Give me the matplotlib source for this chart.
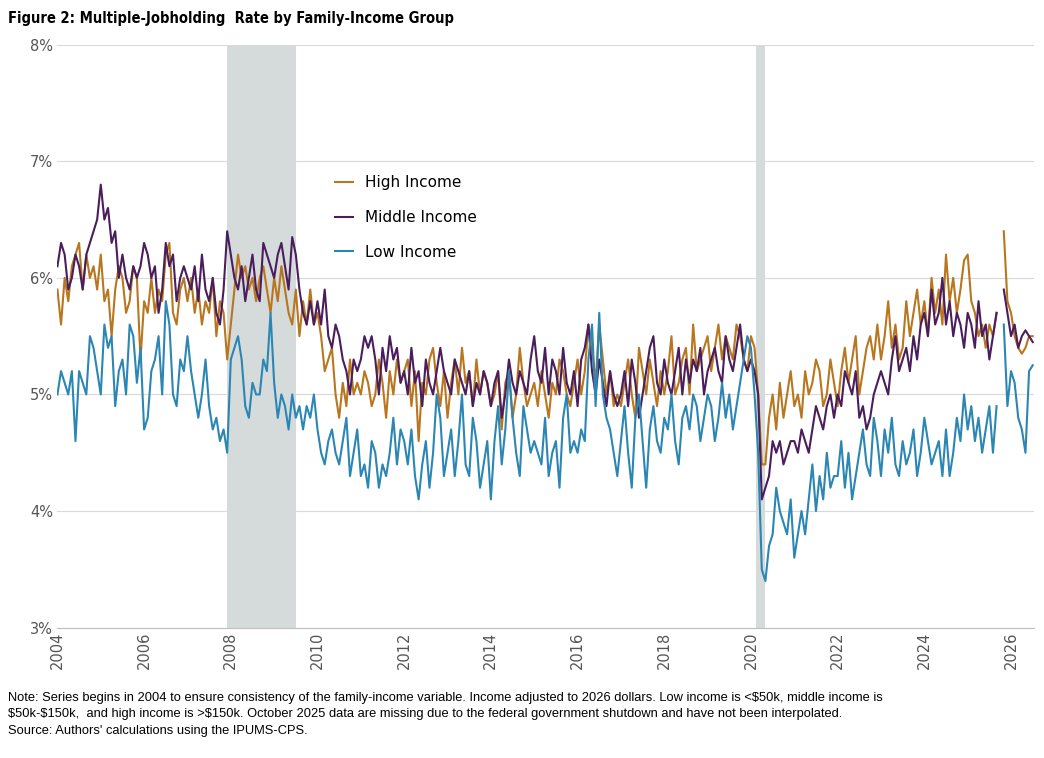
import numpy as np
import matplotlib
matplotlib.use("Agg")
import matplotlib.pyplot as plt

nan = np.nan
low = [
5.0,5.2,5.1,5.0,5.2,4.6,5.2,5.1,5.0,5.5,5.4,5.2,
5.0,5.6,5.4,5.5,4.9,5.2,5.3,5.0,5.6,5.5,5.1,5.4,
4.7,4.8,5.2,5.3,5.5,5.0,5.8,5.6,5.0,4.9,5.3,5.2,
5.5,5.2,5.0,4.8,5.0,5.3,4.9,4.7,4.8,4.6,4.7,4.5,
5.3,5.4,5.5,5.3,4.9,4.8,5.1,5.0,5.0,5.3,5.2,5.7,
5.1,4.8,5.0,4.9,4.7,5.0,4.8,4.9,4.7,4.9,4.8,5.0,
4.7,4.5,4.4,4.6,4.7,4.5,4.4,4.6,4.8,4.3,4.5,4.7,
4.3,4.4,4.2,4.6,4.5,4.2,4.4,4.3,4.5,4.8,4.4,4.7,
4.6,4.4,4.7,4.3,4.1,4.4,4.6,4.2,4.5,5.0,4.8,4.3,
4.5,4.7,4.3,4.6,5.0,4.4,4.3,4.8,4.6,4.2,4.4,4.6,
4.1,4.6,4.9,4.4,4.7,5.2,4.8,4.5,4.3,4.9,4.7,4.5,
4.6,4.5,4.4,4.8,4.3,4.5,4.6,4.2,4.8,5.0,4.5,4.6,
4.5,4.7,4.6,5.3,5.6,4.9,5.7,5.0,4.8,4.7,4.5,4.3,
4.6,4.9,4.5,4.2,4.8,5.0,4.6,4.2,4.7,4.9,4.6,4.5,
4.8,4.7,5.0,4.6,4.4,4.8,4.9,4.7,5.0,4.9,4.6,4.8,
5.0,4.9,4.6,4.8,5.1,4.8,5.0,4.7,4.9,5.1,5.3,5.5,
5.4,5.0,4.5,3.5,3.4,3.7,3.8,4.2,4.0,3.9,3.8,4.1,
3.6,3.8,4.0,3.8,4.1,4.4,4.0,4.3,4.1,4.5,4.2,4.3,
4.3,4.6,4.2,4.5,4.1,4.3,4.5,4.7,4.4,4.3,4.8,4.6,
4.3,4.7,4.5,4.8,4.4,4.3,4.6,4.4,4.5,4.7,4.3,4.5,
4.8,4.6,4.4,4.5,4.6,4.3,4.7,4.3,4.5,4.8,4.6,5.0,
4.7,4.9,4.6,4.8,4.5,4.7,4.9,4.5,4.9,nan,5.6,4.9,
5.2,5.1,4.8,4.7,4.5,5.2,5.25]
middle = [
6.1,6.3,6.2,5.9,6.0,6.2,6.1,5.9,6.2,6.3,6.4,6.5,
6.8,6.5,6.6,6.3,6.4,6.0,6.2,6.0,5.9,6.1,6.0,6.1,
6.3,6.2,6.0,6.1,5.7,5.9,6.3,6.1,6.2,5.8,6.0,6.1,
6.0,5.9,6.1,5.8,6.2,5.9,5.8,6.0,5.7,5.6,5.9,6.4,
6.2,6.0,5.9,6.1,5.8,6.0,6.2,5.9,5.8,6.3,6.2,6.1,
6.0,6.2,6.3,6.1,5.9,6.35,6.2,5.9,5.7,5.6,5.8,5.6,
5.8,5.6,5.9,5.5,5.4,5.6,5.5,5.3,5.2,5.0,5.3,5.2,
5.3,5.5,5.4,5.5,5.3,5.0,5.4,5.2,5.5,5.3,5.4,5.1,
5.2,5.0,5.4,5.1,5.2,4.9,5.3,5.1,5.0,5.2,5.4,5.2,
5.1,5.0,5.3,5.2,5.1,5.0,5.2,4.9,5.1,5.0,5.2,5.1,
4.9,5.1,5.2,4.8,5.0,5.3,5.1,5.0,5.2,5.1,5.0,5.3,
5.5,5.2,5.1,5.4,5.0,5.3,5.2,5.0,5.4,5.1,5.0,5.2,
4.9,5.3,5.4,5.6,5.2,5.0,5.3,5.1,4.9,5.2,5.0,4.9,
5.0,5.2,4.9,5.3,5.1,4.8,5.0,5.2,5.4,5.5,5.1,5.0,
5.3,5.1,5.0,5.2,5.4,5.0,5.3,5.1,5.3,5.2,5.4,5.0,
5.2,5.3,5.4,5.2,5.1,5.5,5.3,5.2,5.4,5.6,5.3,5.2,
5.3,5.2,5.0,4.1,4.2,4.3,4.6,4.5,4.6,4.4,4.5,4.6,
4.6,4.5,4.7,4.6,4.5,4.7,4.9,4.8,4.7,4.9,5.0,4.8,
5.0,4.9,5.2,5.1,5.0,5.2,4.8,4.9,4.7,4.8,5.0,5.1,
5.2,5.1,5.0,5.3,5.5,5.2,5.3,5.4,5.2,5.5,5.3,5.6,
5.7,5.5,5.9,5.6,5.7,6.0,5.6,5.8,5.5,5.7,5.6,5.4,
5.7,5.6,5.4,5.8,5.5,5.6,5.3,5.5,5.7,nan,5.9,5.7,
5.5,5.6,5.4,5.5,5.55,5.5,5.45]
high = [
5.9,5.6,6.0,5.8,6.1,6.2,6.3,5.9,6.2,6.0,6.1,5.9,
6.2,5.8,5.9,5.5,5.9,6.1,6.0,5.7,5.8,6.1,6.0,5.3,
5.8,5.7,6.0,5.7,5.9,5.8,6.2,6.3,5.7,5.6,5.9,6.0,
5.8,6.0,5.7,5.9,5.6,5.8,5.7,6.0,5.5,5.8,5.7,5.3,
5.6,5.9,6.2,6.0,6.1,5.9,6.0,5.8,6.0,6.1,5.9,5.7,
6.0,5.8,6.1,5.9,5.7,5.6,5.9,5.5,5.8,5.6,5.9,5.6,
5.7,5.5,5.2,5.3,5.4,5.0,4.8,5.1,4.9,5.3,5.0,5.1,
5.0,5.2,5.1,4.9,5.0,5.3,5.1,4.8,5.2,5.0,5.3,5.1,
5.2,5.3,4.9,5.2,4.6,5.1,5.0,5.3,5.4,5.1,4.9,5.2,
4.8,5.1,5.3,5.0,5.4,5.1,5.2,4.9,5.3,5.0,5.2,5.1,
4.9,5.0,5.2,4.7,5.1,5.2,4.8,5.0,5.4,5.1,4.9,5.0,
5.1,4.9,5.2,5.0,4.8,5.1,5.0,5.3,5.2,5.0,4.9,5.1,
5.3,5.0,5.2,5.6,5.4,5.1,5.6,5.3,5.0,5.2,4.9,5.0,
4.9,5.1,5.3,5.0,4.8,5.4,5.2,5.0,5.3,5.1,4.9,5.2,
5.0,5.2,5.5,5.0,5.1,5.3,5.4,5.0,5.6,5.2,5.3,5.4,
5.5,5.2,5.4,5.6,5.3,5.5,5.4,5.3,5.6,5.5,5.3,5.2,
5.5,5.4,5.0,4.4,4.4,4.8,5.0,4.7,5.1,4.8,5.0,5.2,
4.9,5.0,4.8,5.2,5.0,5.1,5.3,5.2,4.9,5.0,5.3,5.1,
4.9,5.2,5.4,5.1,5.3,5.5,5.0,5.2,5.4,5.5,5.3,5.6,
5.3,5.5,5.8,5.4,5.6,5.3,5.4,5.8,5.5,5.7,5.9,5.6,
5.8,5.5,6.0,5.7,5.9,5.6,6.2,5.8,6.0,5.7,5.9,6.15,
6.2,5.8,5.7,5.5,5.6,5.4,5.6,5.5,5.7,nan,6.4,5.8,
5.7,5.5,5.4,5.35,5.4,5.5,5.5]
recessions = [(2007.92, 2009.5), (2020.12, 2020.33)]
years = [2004, 2006, 2008, 2010, 2012, 2014, 2016, 2018, 2020, 2022, 2024, 2026]

t = 2004 + np.arange(len(low)) / 12.0

fig = plt.figure(figsize=(10.44, 7.58), dpi=100)
ax = fig.add_axes([0.055, 0.172, 0.935, 0.769])
for a, b in recessions:
    ax.axvspan(a, b, color="#d5dbdb", zorder=0, lw=0)
ax.plot(t, high, color="#B8761F", lw=1.5, label="High Income")
ax.plot(t, middle, color="#4A1D5C", lw=1.5, label="Middle Income")
ax.plot(t, low, color="#2B86B3", lw=1.5, label="Low Income")
ax.set_ylim(3, 8)
ax.set_xlim(2004, t[-1] + 0.02)
ax.set_yticks([3, 4, 5, 6, 7, 8])
ax.set_yticklabels([f"{v}%" for v in [3, 4, 5, 6, 7, 8]], fontsize=10.5, color="#555555")
ax.set_xticks(years)
ax.set_xticklabels([str(y) for y in years], rotation=90, fontsize=10.5, color="#555555")
ax.grid(axis="y", color="#d9d9d9", lw=0.8)
ax.set_axisbelow(True)
for s in ["top", "right", "left"]:
    ax.spines[s].set_visible(False)
ax.spines["bottom"].set_color("#bfbfbf")
ax.tick_params(length=0, pad=3)
ax.legend(loc="upper left", bbox_to_anchor=(0.27, 0.8), frameon=False, fontsize=11,
          handlelength=1.2, labelspacing=1.3)
fig.text(0.008, 0.975, "Figure 2: Multiple-Jobholding  Rate by Family-Income Group",
         fontsize=10.5, fontweight="bold", va="center", fontstretch="condensed")
fig.text(0.008, 0.058,
         "Note: Series begins in 2004 to ensure consistency of the family-income variable. Income adjusted to 2026 dollars. Low income is <$50k, middle income is\n"
         "$50k-$150k,  and high income is >$150k. October 2025 data are missing due to the federal government shutdown and have not been interpolated.\n"
         "Source: Authors' calculations using the IPUMS-CPS.",
         fontsize=9.3, va="center", linespacing=1.5, family="Liberation Sans")
fig.savefig("out.png", dpi=100)
